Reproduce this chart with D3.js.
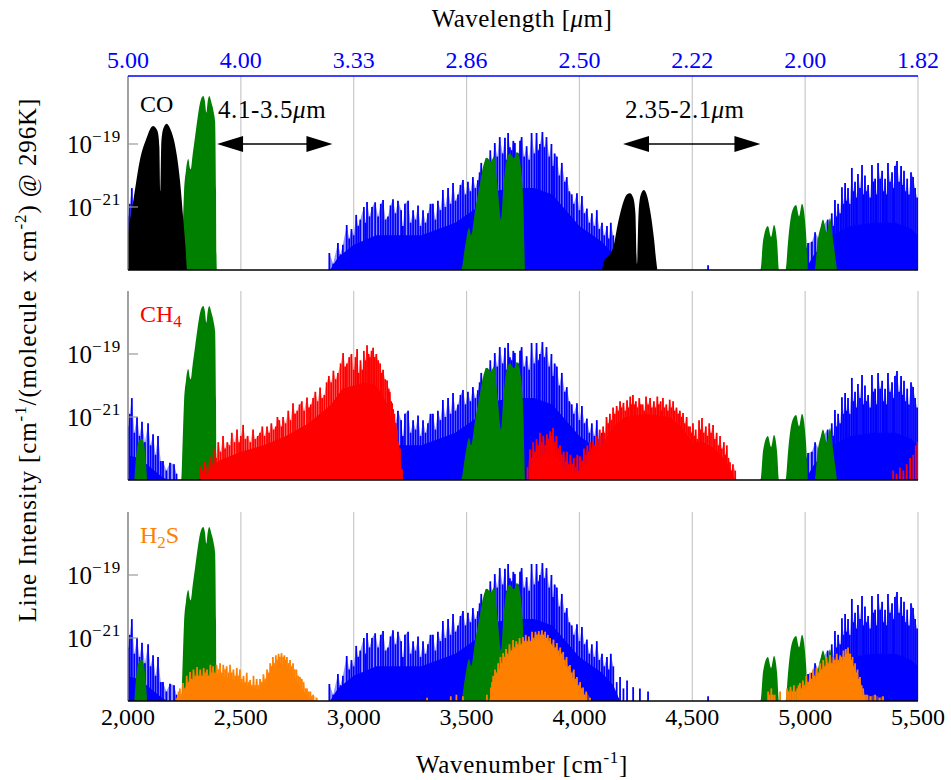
<!DOCTYPE html>
<html><head><meta charset="utf-8">
<script src="https://cdn.jsdelivr.net/npm/d3@7"></script>
<style>
body{margin:0;background:#fff}
svg{display:block}
text{font-family:"Liberation Serif","DejaVu Serif",serif}
</style>
</head><body>
<svg id="chart" width="951" height="780"></svg>
<script>
// ---------------- DATA ----------------
const xTicks = [2000, 2500, 3000, 3500, 4000, 4500, 5000, 5500];
const xTickLabels = ["2,000", "2,500", "3,000", "3,500", "4,000", "4,500", "5,000", "5,500"];
const wlTickLabels = ["5.00", "4.00", "3.33", "2.86", "2.50", "2.22", "2.00", "1.82"];
const yTickExps = [-19, -21];
const panelNames = ["CO", "CH4", "H2S"];
const rangeLabels = ["4.1-3.5", "2.35-2.1"];
const rangeWavenumbers = [[2439, 2857], [4255, 4762]];

// H2O line tops [wavenumber, log10 intensity]
const h2oLines = [
[2000,-21.3],[2008,-20.9],[2017,-20.4],[2028,-21.5],[2040,-21.0],[2051,-21.6],[2062,-21.15],[2075,-21.8],[2089,-21.2],[2100,-21.9],
[2111,-21.55],[2122,-22.2],[2133,-21.6],[2145,-22.4],[2155,-22.4],[2170,-22.7],[2186,-22.45],[2204,-22.5],[2215,-22.8],
[2892,-22.46],[2909,-22.8],[2930,-22.14],[2941,-22.5],[2952,-22.2],[2969,-21.57],[2980,-22.0],[2990,-21.7],[3000,-21.9],[3011,-21.25],
[3020,-21.6],[3029,-21.4],[3045,-21.0],[3052,-21.5],[3059,-20.84],[3070,-21.3],[3081,-21.0],[3095,-20.85],[3108,-21.3],[3120,-20.9],
[3130,-20.78],[3141,-21.4],[3152,-21.3],[3163,-20.95],[3174,-20.75],[3185,-21.2],[3196,-20.8],[3210,-21.1],[3218,-21.6],[3227,-20.9],
[3241,-20.8],[3252,-21.5],[3263,-21.1],[3274,-21.4],[3285,-20.95],[3296,-21.6],[3307,-21.1],[3318,-21.5],[3329,-21.2],[3340,-20.9],
[3351,-20.9],[3362,-21.4],[3373,-20.8],[3384,-21.1],[3395,-20.46],[3406,-21.0],[3418,-20.4],[3429,-20.9],[3440,-20.24],[3451,-20.8],
[3462,-20.6],[3473,-20.3],[3484,-20.14],[3495,-20.6],[3506,-20.2],[3517,-20.5],[3528,-20.05],[3539,-20.4],[3550,-20.15],[3558,-19.9],
[3565,-19.6],[3576,-20.0],[3588,-19.45],[3597,-19.8],[3605,-19.2],[3615,-19.6],[3625,-18.97],[3636,-19.4],[3647,-18.78],[3660,-19.3],
[3670,-18.8],[3677,-19.5],[3684,-18.65],[3692,-19.1],[3700,-19.2],[3707,-18.9],[3714,-18.97],[3722,-19.6],[3730,-19.3],[3737,-18.9],
[3744,-18.78],[3755,-19.4],[3766,-19.07],[3777,-19.5],[3788,-18.65],[3800,-19.3],[3810,-18.65],[3818,-19.2],[3825,-19.0],[3836,-18.62],
[3845,-19.1],[3854,-18.78],[3866,-19.4],[3876,-19.0],[3883,-19.7],[3890,-19.3],[3900,-19.4],[3911,-20.0],[3922,-19.6],[3935,-20.2],
[3944,-20.05],[3955,-20.5],[3966,-20.6],[3975,-20.9],[3989,-20.56],[4000,-21.1],[4011,-20.65],[4022,-21.2],[4033,-21.05],[4044,-21.5],
[4055,-21.2],[4066,-21.6],[4077,-21.1],[4088,-21.7],[4100,-21.5],[4110,-21.9],[4122,-21.6],[4130,-22.0],[4139,-21.5],[4150,-21.9],
[4165,-22.4],[4180,-22.24],[4195,-22.6],[4211,-22.35],[4238,-22.56],[4268,-22.6],[4304,-22.7],[4570,-22.85],
[5005,-22.3],[5013,-22.14],[5030,-22.1],[5044,-21.8],[5060,-22.0],[5080,-21.6],[5100,-21.4],[5110,-21.8],[5118,-21.2],[5125,-21.6],
[5132,-20.78],[5140,-21.3],[5146,-20.9],[5155,-21.2],[5163,-20.37],[5170,-20.9],[5177,-20.24],[5184,-20.8],[5190,-20.4],[5198,-20.9],
[5207,-19.76],[5214,-20.5],[5221,-20.2],[5228,-20.7],[5234,-19.95],[5243,-20.4],[5252,-19.67],[5258,-20.6],[5265,-20.0],[5272,-20.5],
[5279,-20.3],[5288,-20.7],[5296,-19.67],[5303,-20.2],[5310,-20.1],[5316,-20.6],[5323,-19.6],[5332,-20.1],[5341,-19.85],[5348,-20.5],
[5354,-20.1],[5360,-20.6],[5367,-19.6],[5376,-20.2],[5385,-19.9],[5392,-20.4],[5398,-19.7],[5407,-19.54],[5416,-20.2],[5425,-19.7],
[5432,-20.3],[5438,-19.85],[5445,-20.5],[5452,-20.1],[5460,-20.6],[5469,-19.9],[5478,-20.05],[5487,-20.4],[5496,-20.7]
];
// H2O dense (solid) floor
const h2oBase = [
[1990,-22.2],[2050,-22.3],[2100,-22.6],[2150,-22.9],[2175,-23],[2895,-23],[2930,-22.6],[3000,-22.2],[3100,-21.9],[3300,-21.9],
[3450,-21.5],[3550,-21.0],[3620,-20.5],[3700,-20.4],[3800,-20.4],[3880,-20.6],[3940,-21.1],[4000,-21.6],[4100,-22.1],[4150,-22.5],
[4180,-23],[5000,-23],[5040,-22.5],[5120,-21.9],[5200,-21.6],[5300,-21.5],[5400,-21.5],[5470,-21.7],[5500,-21.9]
];
// CO band envelope
const coBand = [
[1990,-22.4],[2000,-21.83],[2024,-20.78],[2053,-19.5],[2084,-18.78],[2100,-18.5],[2111,-18.43],[2124,-18.5],[2133,-18.65],[2139,-19.1],
[2143,-20.5],[2147,-19.1],[2151,-18.7],[2160,-18.45],[2172,-18.36],[2186,-18.5],[2200,-18.78],[2215,-19.3],[2230,-20.14],[2245,-21.4],
[2255,-22.3],[2262,-23],[4098,-23],[4110,-22.7],[4122,-22.6],[4135,-22.5],[4150,-22.27],[4171,-21.5],[4193,-20.87],[4210,-20.6],
[4224,-20.56],[4238,-20.7],[4248,-21.2],[4255,-22.8],[4262,-21.2],[4272,-20.6],[4286,-20.46],[4300,-20.65],[4313,-21.1],[4331,-22.05],
[4340,-22.7],[4345,-23]
];
// CO2 band envelope
const co2Band = [
[2028,-23],[2033,-22.5],[2040,-22.0],[2050,-21.75],[2062,-21.69],[2072,-21.9],[2080,-22.5],[2086,-23],
[2236,-23],[2242,-21.8],[2248,-20.56],[2257,-19.83],[2267,-19.48],[2274,-19.75],[2278,-19.8],[2287,-19.3],[2297,-18.78],[2307,-18.24],
[2319,-17.7],[2333,-17.48],[2341,-17.65],[2347,-18.0],[2353,-17.65],[2360,-17.48],[2370,-17.7],[2380,-18.0],[2386,-18.3],[2390,-20.5],
[2392,-22.5],[2394,-23],
[3476,-23],[3493,-22.27],[3511,-21.67],[3520,-21.9],[3538,-21.1],[3560,-20.24],[3573,-19.73],[3590,-19.44],[3608,-19.55],[3622,-19.4],
[3636,-20.24],[3653,-21.4],[3663,-20.4],[3675,-19.6],[3692,-19.3],[3710,-19.45],[3723,-19.25],[3738,-19.6],[3745,-20.05],[3752,-21.0],
[3756,-22.3],[3759,-23],
[4802,-23],[4814,-22.05],[4835,-21.6],[4849,-21.95],[4862,-21.57],[4876,-22.14],[4884,-23],
[4913,-23],[4925,-22.05],[4940,-21.2],[4960,-20.94],[4973,-21.3],[4986,-20.9],[5004,-21.83],[5013,-23],
[5042,-23],[5054,-22.14],[5070,-21.6],[5079,-21.4],[5096,-21.8],[5110,-21.36],[5124,-22.05],[5141,-23]
];
// CH4 line tops
const ch4Lines = [
[2319,-22.56],[2330,-22.7],[2340,-22.4],[2352,-22.6],[2363,-22.25],[2372,-22.5],[2380,-22.0],[2390,-22.3],[2400,-21.8],[2410,-22.1],
[2421,-21.6],[2430,-22.0],[2440,-21.8],[2450,-21.9],[2460,-21.5],[2472,-21.8],[2483,-21.4],[2492,-21.8],[2500,-21.6],[2510,-21.25],
[2520,-21.7],[2530,-21.6],[2542,-21.8],[2554,-21.4],[2564,-21.7],[2575,-21.6],[2585,-21.5],[2595,-21.3],[2605,-21.6],[2616,-21.3],
[2625,-21.5],[2635,-21.2],[2645,-21.4],[2655,-21.3],[2662,-21.0],[2670,-21.1],[2680,-21.3],[2687,-21.0],[2698,-21.2],[2710,-20.8],
[2720,-21.1],[2731,-20.56],[2740,-20.9],[2750,-20.8],[2760,-20.6],[2770,-20.5],[2780,-20.8],[2793,-20.38],[2802,-20.7],[2810,-20.6],
[2820,-20.4],[2830,-20.2],[2840,-20.5],[2851,-20.06],[2860,-20.4],[2870,-20.3],[2880,-19.9],[2890,-19.7],[2900,-19.9],[2910,-19.53],
[2920,-19.8],[2930,-19.6],[2942,-19.3],[2953,-18.97],[2962,-19.4],[2970,-19.3],[2980,-19.1],[2990,-19.0],[3000,-19.5],[3008,-19.1],
[3015,-18.84],[3022,-19.6],[3030,-19.2],[3038,-19.5],[3045,-18.9],[3052,-19.2],[3059,-18.72],[3066,-19.0],[3072,-19.1],[3079,-18.9],
[3086,-18.8],[3093,-19.1],[3100,-19.0],[3108,-19.2],[3117,-19.3],[3124,-19.6],[3130,-19.5],[3139,-19.8],[3148,-19.84],[3155,-20.1],
[3160,-20.2],[3166,-20.5],[3170,-20.56],[3175,-20.8],[3180,-20.9],[3186,-21.2],[3192,-21.4],[3198,-21.8],[3205,-22.0],[3214,-22.66],
[3770,-22.6],[3781,-22.03],[3788,-22.3],[3795,-21.8],[3803,-22.1],[3810,-21.7],[3818,-21.9],[3825,-21.5],[3833,-21.8],[3840,-21.6],
[3848,-21.9],[3856,-21.55],[3863,-21.7],[3870,-21.45],[3877,-21.6],[3883,-21.34],[3890,-21.8],[3898,-21.6],[3906,-22.0],[3914,-21.9],
[3922,-22.2],[3930,-22.1],[3938,-22.4],[3945,-22.1],[3952,-22.5],[3960,-22.2],[3968,-22.5],[3975,-22.3],[3983,-22.6],[3990,-22.2],
[4003,-22.25],[4012,-22.4],[4020,-22.0],[4028,-22.2],[4035,-21.9],[4042,-22.1],[4047,-21.8],[4055,-22.0],[4060,-21.75],[4068,-21.9],
[4075,-21.6],[4082,-21.8],[4090,-21.4],[4097,-21.6],[4105,-21.3],[4112,-21.5],[4120,-21.0],[4127,-21.2],[4135,-20.9],[4142,-21.1],
[4149,-20.7],[4157,-20.9],[4165,-20.65],[4172,-20.8],[4180,-20.5],[4187,-20.7],[4195,-20.55],[4203,-20.8],[4211,-20.47],[4218,-20.7],
[4225,-20.35],[4231,-20.6],[4237,-20.3],[4244,-20.6],[4250,-20.5],[4257,-20.7],[4265,-20.4],[4272,-20.6],[4280,-20.6],[4287,-20.8],
[4295,-20.35],[4304,-20.6],[4313,-20.4],[4321,-20.7],[4330,-20.5],[4337,-20.7],[4345,-20.35],[4352,-20.6],[4360,-20.5],[4365,-20.8],
[4370,-20.4],[4377,-20.7],[4385,-20.6],[4392,-20.8],[4400,-20.45],[4407,-20.7],[4415,-20.5],[4422,-20.8],[4430,-20.7],[4437,-20.9],
[4445,-20.8],[4452,-21.0],[4459,-20.87],[4467,-21.2],[4475,-21.0],[4482,-21.3],[4490,-21.3],[4497,-21.5],[4503,-21.2],[4509,-21.6],
[4515,-21.4],[4522,-21.7],[4530,-21.1],[4537,-21.4],[4543,-21.03],[4551,-21.5],[4560,-21.3],[4567,-21.6],[4575,-21.2],[4583,-21.5],
[4592,-21.25],[4600,-21.7],[4608,-21.5],[4616,-21.9],[4623,-21.6],[4631,-22.0],[4640,-21.8],[4646,-22.2],[4653,-21.9],[4660,-22.3],
[4667,-22.44],[4674,-22.7],[4680,-22.5],[4690,-22.7],
[5390,-22.7],[5405,-22.8],[5420,-22.6],[5435,-22.7],[5450,-22.5],[5465,-22.3],[5479,-22.2],[5490,-21.9],[5498,-21.8]
];
const ch4Base = [
[2320,-23],[2350,-22.8],[2400,-22.4],[2500,-22.1],[2600,-21.9],[2700,-21.6],[2800,-21.2],[2900,-20.6],[2950,-20.1],[3000,-20.0],
[3050,-19.9],[3100,-20.0],[3150,-20.6],[3180,-21.4],[3210,-22.6],[3220,-23],[3775,-23],[3790,-22.5],[3850,-22.1],[3900,-22.3],
[3950,-22.8],[4000,-22.7],[4050,-22.3],[4100,-21.9],[4150,-21.3],[4200,-21.0],[4300,-20.9],[4400,-21.0],[4450,-21.3],[4500,-21.8],
[4550,-21.8],[4600,-22.0],[4650,-22.4],[4690,-23]
];
// H2S line tops
const h2sLines = [
[2217,-22.9],[2224,-22.7],[2230,-22.6],[2237,-22.8],[2244,-22.43],[2252,-22.6],[2260,-22.2],[2267,-22.4],[2275,-22.08],[2282,-22.3],
[2290,-22.0],[2298,-22.2],[2306,-21.92],[2313,-22.2],[2320,-22.0],[2328,-22.2],[2335,-21.95],[2342,-22.1],[2350,-22.0],[2357,-22.2],
[2365,-21.85],[2371,-22.1],[2377,-21.9],[2385,-22.1],[2392,-21.85],[2400,-22.0],[2408,-21.8],[2415,-22.1],[2422,-21.85],[2430,-22.0],
[2437,-21.9],[2445,-22.1],[2452,-21.85],[2460,-22.1],[2467,-22.0],[2475,-22.2],[2482,-21.95],[2489,-22.2],[2496,-22.0],[2504,-22.3],
[2512,-22.2],[2519,-22.4],[2526,-22.1],[2534,-22.4],[2541,-22.33],[2549,-22.5],[2556,-22.2],[2563,-22.5],[2570,-22.3],[2578,-22.5],
[2585,-22.3],[2593,-22.4],[2600,-22.15],[2608,-22.3],[2616,-22.0],[2623,-22.1],[2630,-21.8],[2636,-21.9],[2642,-21.6],[2649,-21.8],
[2655,-21.55],[2661,-21.7],[2667,-21.5],[2673,-21.6],[2680,-21.48],[2687,-21.6],[2693,-21.55],[2699,-21.7],[2704,-21.6],[2711,-21.8],
[2718,-21.7],[2725,-21.9],[2731,-21.8],[2738,-22.0],[2746,-22.0],[2754,-22.2],[2762,-22.24],[2770,-22.3],[2778,-22.4],[2786,-22.6],
[2793,-22.6],[2800,-22.7],[2808,-22.7],[2814,-22.85],[2820,-22.8],[2836,-22.9],
[3325,-22.9],[3430,-22.85],[3455,-22.8],[3484,-22.85],[3590,-22.8],[3608,-22.57],[3613,-22.4],[3618,-22.2],[3622,-22.4],[3626,-22.0],
[3633,-22.1],[3640,-21.8],[3645,-22.0],[3650,-21.6],[3656,-21.8],[3662,-21.48],[3668,-21.6],[3675,-21.35],[3682,-21.5],[3690,-21.2],
[3698,-21.4],[3706,-21.06],[3713,-21.3],[3720,-21.1],[3727,-21.2],[3735,-21.0],[3742,-21.2],[3750,-20.97],[3756,-21.1],[3762,-20.9],
[3769,-21.1],[3776,-20.95],[3783,-21.1],[3790,-20.8],[3797,-21.0],[3805,-20.8],[3812,-20.9],[3820,-20.78],[3827,-20.9],[3834,-20.75],
[3841,-20.9],[3848,-20.8],[3854,-21.0],[3860,-20.9],[3865,-21.1],[3870,-21.0],[3877,-21.2],[3885,-21.05],[3892,-21.3],[3900,-21.16],
[3907,-21.4],[3915,-21.3],[3921,-21.5],[3928,-21.44],[3935,-21.7],[3943,-21.6],[3950,-21.9],[3958,-21.86],[3966,-22.1],[3975,-22.0],
[3982,-22.3],[3989,-22.24],[3996,-22.5],[4003,-22.4],[4010,-22.6],[4016,-22.57],[4023,-22.8],[4030,-22.7],[4047,-22.9],
[4836,-22.7],[4843,-22.8],[4850,-22.6],[4857,-22.8],[4865,-22.8],[4889,-22.7],[4920,-22.6],[4928,-22.7],[4935,-22.55],[4943,-22.7],
[4950,-22.5],[4957,-22.7],[4965,-22.6],[4971,-22.5],[4977,-22.43],[4984,-22.6],[4990,-22.35],[4997,-22.5],[5005,-22.2],[5013,-22.4],
[5022,-22.1],[5028,-22.3],[5035,-22.0],[5042,-22.2],[5050,-21.95],[5058,-22.1],[5066,-21.8],[5073,-22.0],[5080,-21.7],[5088,-21.9],
[5095,-21.6],[5102,-21.8],[5110,-21.54],[5118,-21.8],[5125,-21.6],[5132,-21.7],[5140,-21.5],[5147,-21.7],[5155,-21.55],[5162,-21.6],
[5170,-21.4],[5175,-21.6],[5180,-21.35],[5185,-21.5],[5190,-21.3],[5195,-21.5],[5200,-21.5],[5205,-21.7],[5210,-21.6],[5215,-21.9],
[5221,-21.8],[5227,-22.1],[5232,-22.0],[5238,-22.3],[5243,-22.24],[5250,-22.5],[5257,-22.6],[5265,-22.8],[5274,-22.8],[5290,-22.85],
[5310,-22.8],[5330,-22.9],[5345,-22.85]
];
const h2sBase = [
[2220,-23],[2260,-22.5],[2300,-22.25],[2400,-22.15],[2500,-22.4],[2580,-22.65],[2640,-21.95],[2680,-21.8],[2720,-22.0],[2760,-22.5],
[2800,-22.9],[2830,-23],[3600,-23],[3620,-22.5],[3650,-21.95],[3700,-21.4],[3750,-21.2],[3830,-21.0],[3880,-21.25],[3930,-21.75],
[3980,-22.4],[4030,-23],[4960,-23],[4990,-22.7],[5050,-22.25],[5100,-21.85],[5150,-21.8],[5190,-21.6],[5230,-22.2],[5260,-23]
];

// ---------------- CHART ----------------
const svg = d3.select("#chart");
const X0 = 128, X1 = 918;
const x = d3.scaleLinear().domain([2000, 5500]).range([X0, X1]);
const BLUE = "#0000ff", GREEN = "#008000", RED = "#ff0000", ORANGE = "#ff8000";

const panels = [
  {frameTop: 76, bottom: 270, species: "co"},
  {frameTop: 291, bottom: 480, species: "ch4"},
  {frameTop: 512, bottom: 701, species: "h2s"}
];

function pw(v) { return Math.pow(10, v); }

panels.forEach((p, i) => {
  const y = d3.scaleLog().domain([1e-23, 1e-17]).range([p.bottom, p.bottom - 189]);
  const g = svg.append("g");
  const clipId = "clip" + i;
  svg.append("clipPath").attr("id", clipId).append("rect")
    .attr("x", X0).attr("y", p.frameTop - 2).attr("width", X1 - X0).attr("height", p.bottom - p.frameTop + 2);

  // grid
  g.selectAll(".grid").data(xTicks.slice(1)).join("line")
    .attr("x1", d => x(d)).attr("x2", d => x(d))
    .attr("y1", p.frameTop).attr("y2", p.bottom)
    .attr("stroke", "#c8c8c8").attr("stroke-width", 1.2);

  const plot = g.append("g").attr("clip-path", `url(#${clipId})`);
  const base = y(1e-23);

  function spikes(data, color, w) {
    plot.append("g").selectAll("line").data(data).join("line")
      .attr("x1", d => x(d[0])).attr("x2", d => x(d[0]))
      .attr("y1", base).attr("y2", d => y(pw(d[1])))
      .attr("stroke", color).attr("stroke-width", w);
  }
  function floor(data, color, curve) {
    const area = d3.area().x(d => x(d[0])).y0(base).y1(d => y(pw(d[1]))).curve(curve || d3.curveLinear);
    plot.append("path").datum(data).attr("d", area).attr("fill", color);
  }
  function veil(data, color) {
    const area = d3.area().x(d => x(d[0])).y0(base).y1(d => y(pw(d[1]))).curve(d3.curveLinear);
    plot.append("path").datum(data).attr("d", area).attr("fill", color).attr("fill-opacity", 0.42);
  }

  // H2O (blue)
  veil(h2oLines.filter(d => d[0] < 2230), BLUE);
  veil(h2oLines.filter(d => d[0] > 2880 && d[0] < 4160), BLUE);
  veil(h2oLines.filter(d => d[0] > 5000), BLUE);
  floor(h2oBase, BLUE);
  spikes(h2oLines, BLUE, 1.8);

  const co2 = () => floor(co2Band, GREEN, d3.curveMonotoneX);
  if (p.species === "co") {
    co2();
    floor(coBand, "#000000", d3.curveMonotoneX);
  } else if (p.species === "ch4") {
    co2();
    veil(ch4Lines.filter(d => d[0] < 3300), RED);
    veil(ch4Lines.filter(d => d[0] > 3700 && d[0] < 4700), RED);
    floor(ch4Base, RED);
    spikes(ch4Lines, RED, 1.8);
  } else {
    co2();
    veil(h2sLines.filter(d => d[0] < 2900), ORANGE);
    veil(h2sLines.filter(d => d[0] > 3590 && d[0] < 4060), ORANGE);
    veil(h2sLines.filter(d => d[0] > 4900), ORANGE);
    floor(h2sBase, ORANGE);
    spikes(h2sLines, ORANGE, 1.8);
  }

  // left axis
  g.append("line").attr("x1", X0).attr("x2", X0).attr("y1", p.frameTop).attr("y2", p.bottom)
    .attr("stroke", "#7a7a7a").attr("stroke-width", 1.4);
  // bottom axis
  g.append("line").attr("x1", X0).attr("x2", X1).attr("y1", p.bottom).attr("y2", p.bottom)
    .attr("stroke", "#000").attr("stroke-width", 1.5);

  // y ticks
  yTickExps.forEach(e => {
    const yy = y(pw(e));
    g.append("line").attr("x1", X0).attr("x2", X0 + 10).attr("y1", yy).attr("y2", yy)
      .attr("stroke", "#9a9a9a").attr("stroke-width", 1.2);
    const t = g.append("text").attr("x", 121).attr("y", yy + 9).attr("text-anchor", "end")
      .attr("font-size", 25).attr("fill", "#000");
    t.append("tspan").text("10");
    t.append("tspan").attr("dy", -11).attr("font-size", 17).attr("letter-spacing", 0.8).text("\u2212" + Math.abs(e));
  });

  // panel label
  const lab = g.append("text").attr("x", 140).attr("y", p.frameTop + (i === 0 ? 36 : 31)).attr("font-size", 24);
  if (p.species === "co") {
    lab.attr("fill", "#000").text(panelNames[0]);
  } else if (p.species === "ch4") {
    lab.attr("fill", RED);
    lab.append("tspan").text("CH");
    lab.append("tspan").attr("dy", 5).attr("font-size", 17).text("4");
  } else {
    lab.attr("fill", ORANGE);
    lab.append("tspan").text("H");
    lab.append("tspan").attr("dy", 5).attr("font-size", 17).text("2");
    lab.append("tspan").attr("dy", -5).text("S");
  }

  // range annotations on panel 1
  if (i === 0) {
    const ay = 144;
    rangeWavenumbers.forEach((r, k) => {
      const xa = x(r[0]) - (k === 0 ? 10 : 14), xb = x(r[1]) + (k === 0 ? 11 : 9);
      g.append("line").attr("x1", xa + 20).attr("x2", xb - 20).attr("y1", ay).attr("y2", ay)
        .attr("stroke", "#000").attr("stroke-width", 1.6);
      g.append("path").attr("d", `M${xa},${ay} L${xa + 26},${ay - 8} L${xa + 26},${ay + 8} Z`).attr("fill", "#000");
      g.append("path").attr("d", `M${xb},${ay} L${xb - 26},${ay - 8} L${xb - 26},${ay + 8} Z`).attr("fill", "#000");
      const t = g.append("text").attr("x", k === 0 ? 218 : 625).attr("y", 118).attr("font-size", 25)
        .attr("letter-spacing", k === 0 ? 0.6 : 0.4).attr("fill", "#000");
      t.append("tspan").text(rangeLabels[k]);
      t.append("tspan").attr("font-style", "italic").text("\u03bc");
      t.append("tspan").text("m");
    });
  }
});

// top wavelength axis
svg.append("line").attr("x1", X0).attr("x2", X1).attr("y1", 76).attr("y2", 76)
  .attr("stroke", BLUE).attr("stroke-width", 1.3);
svg.selectAll(".wl").data(xTicks).join("text")
  .attr("x", d => x(d)).attr("y", 68).attr("text-anchor", "middle")
  .attr("font-size", 24).attr("fill", BLUE)
  .text((d, i) => wlTickLabels[i]);
const tt = svg.append("text").attr("x", 522).attr("y", 27).attr("text-anchor", "middle")
  .attr("font-size", 25).attr("letter-spacing", 0.45).attr("fill", "#000");
tt.append("tspan").text("Wavelength [");
tt.append("tspan").attr("font-style", "italic").text("\u03bc");
tt.append("tspan").text("m]");

// bottom axis labels
svg.selectAll(".xl").data(xTicks).join("text")
  .attr("x", d => x(d)).attr("y", 725).attr("text-anchor", "middle")
  .attr("font-size", 24).attr("fill", "#000")
  .text((d, i) => xTickLabels[i]);
const xt = svg.append("text").attr("x", 522).attr("y", 773).attr("text-anchor", "middle")
  .attr("font-size", 25).attr("letter-spacing", 0.7);
xt.append("tspan").text("Wavenumber [cm");
xt.append("tspan").attr("dy", -10).attr("font-size", 17).text("-1");
xt.append("tspan").attr("dy", 10).text("]");

// y title
const yt = svg.append("text").attr("transform", "translate(36,360) rotate(-90)").attr("text-anchor", "middle")
  .attr("font-size", 25).attr("letter-spacing", 0.9);
yt.append("tspan").text("Line Intensity [cm");
yt.append("tspan").attr("dy", -10).attr("font-size", 17).text("-1");
yt.append("tspan").attr("dy", 10).text("/(molecule x cm");
yt.append("tspan").attr("dy", -10).attr("font-size", 17).text("-2");
yt.append("tspan").attr("dy", 10).text(") @ 296K]");
</script>
</body></html>
